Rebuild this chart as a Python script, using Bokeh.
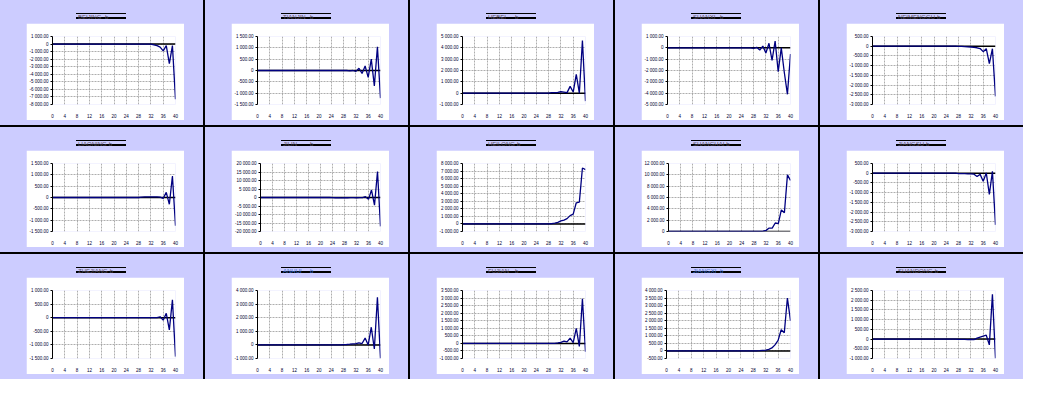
from bokeh.plotting import figure
from bokeh.layouts import row, column
from bokeh.models import Div, Span, FixedTicker, CustomJSTickFormatter
from bokeh.embed import file_html
from bokeh.resources import INLINE

# ---------------- data ----------------
x_index = list(range(41))
x_ticks = [0, 4, 8, 12, 16, 20, 24, 28, 32, 36, 40]

names = ["BEIJING", "TIANJIN", "HEBEI", "SHANXI", "NEIMENGGU",
         "LIAONING", "JILIN", "HEILONG", "SHANGHAI", "JIANGSU",
         "ZHEJIANG", "ANHUI", "FUJIAN", "JIANGXI", "SHANDONG"]

y_min = [-8000, -1500, -1000, -5000, -3000,
         -1500, -20000, -1000, 0, -3000,
         -1500, -1000, -1000, -500, -1000]
y_max = [1000, 1500, 5000, 1000, 500,
         1500, 20000, 8000, 12000, 500,
         1000, 4000, 3500, 4000, 2500]
y_step = [1000, 500, 1000, 1000, 500,
          500, 5000, 1000, 2000, 500,
          500, 1000, 500, 500, 500]

beijing = [0, 0, 0, 0, 0, 0, 0, 0, 0, 0,
           0, 0, 0, 0, 0, 0, 0, 0, 0, 0,
           0, 0, 0, 0, 0, 0, 0, 0, 0, 0,
           0, 0, 0, -100, -200, -400, -900, -200, -2600, -200,
           -7300]
tianjin = [0, 0, 0, 0, 0, 0, 0, 0, 0, 0,
           0, 0, 0, 0, 0, 0, 0, 0, 0, 0,
           0, 0, 0, 0, 0, 0, 0, 0, 0, 0,
           -20, 0, -40, 100, -130, 200, -300, 500, -680, 1050,
           -1220]
hebei = [0, 0, 0, 0, 0, 0, 0, 0, 0, 0,
         0, 0, 0, 0, 0, 0, 0, 0, 0, 0,
         0, 0, 0, 0, 0, 0, 0, 0, 10, 40,
         50, 60, 130, 100, 50, 600, 100, 1650, 0, 4650,
         -700]
shanxi = [0, 0, 0, 0, 0, 0, 0, 0, 0, 0,
          0, 0, 0, 0, 0, 0, 0, 0, 0, 0,
          0, 0, 0, 0, 0, 0, 0, 0, -50, 50,
          -200, 150, -450, 400, -1100, 600, -2100, 0, -2200, -4100,
          -550]
neimenggu = [0, 0, 0, 0, 0, 0, 0, 0, 0, 0,
             0, 0, 0, 0, 0, 0, 0, 0, 0, 0,
             0, 0, 0, 0, 0, 0, 0, 0, -5, -10,
             -20, -30, -40, -60, -80, -120, -280, -130, -900, -130,
             -2580]
liaoning = [0, 0, 0, 0, 0, 0, 0, 0, 0, 0,
            0, 0, 0, 0, 0, 0, 0, 0, 0, 0,
            0, 0, 0, 0, 0, 0, 0, 0, 0, 20,
            30, 30, 30, 30, 30, 20, -40, 230, -300, 950,
            -1250]
jilin = [0, 0, 0, 0, 0, 0, 0, 0, 0, 0,
         0, 0, 0, 0, 0, 0, 0, 0, 0, 0,
         0, 0, 0, 0, -100, -150, -100, -200, -100, -150,
         -100, -100, -150, -100, -100, 500, -1100, 4400, -4500, 15300,
         -17000]
heilong = [0, 0, 0, 0, 0, 0, 0, 0, 0, 0,
           0, 0, 0, 0, 0, 0, 0, 0, 0, 0,
           0, 0, 0, 0, 0, 0, 0, 0, 0, 50,
           100, 200, 400, 500, 700, 1100, 1300, 2800, 2900, 7400,
           7200]
shanghai = [0, 0, 0, 0, 0, 0, 0, 0, 0, 0,
            0, 0, 0, 0, 0, 0, 0, 0, 0, 0,
            0, 0, 0, 0, 0, 0, 0, 0, 0, 0,
            0, 50, 200, 600, 600, 1500, 1400, 3800, 3300, 10000,
            9000]
jiangsu = [0, 0, 0, 0, 0, 0, 0, 0, 0, 0,
           0, 0, 0, 0, 0, 0, 0, 0, 0, 0,
           0, 0, 0, 0, 0, 0, 0, 0, -20, -20,
           -20, -30, -30, -50, -170, -60, -410, 15, -1090, 95,
           -2660]
zhejiang = [0, 0, 0, 0, 0, 0, 0, 0, 0, 0,
            0, 0, 0, 0, 0, 0, 0, 0, 0, 0,
            0, 0, 0, 0, 0, 0, 0, 0, 0, 0,
            0, 0, 0, 0, 0, 35, -90, 160, -450, 660,
            -1430]
anhui = [0, 0, 0, 0, 0, 0, 0, 0, 0, 0,
         0, 0, 0, 0, 0, 0, 0, 0, 0, 0,
         0, 0, 0, 0, 0, 0, 0, 0, 20, 30,
         50, 80, 100, 150, 100, 500, 0, 1300, -300, 3500,
         -1000]
fujian = [0, 0, 0, 0, 0, 0, 0, 0, 0, 0,
          0, 0, 0, 0, 0, 0, 0, 0, 0, 0,
          0, 0, 0, 0, 0, 0, 0, 0, 0, 0,
          0, 30, 70, 150, 100, 350, 50, 1000, -200, 2950,
          -550]
jiangxi = [0, 0, 0, 0, 0, 0, 0, 0, 0, 0,
           0, 0, 0, 0, 0, 0, 0, 0, 0, 0,
           0, 0, 0, 0, 0, 0, 0, 0, 0, 10,
           20, 40, 60, 100, 200, 400, 700, 1400, 1200, 3500,
           2000]
shandong = [0, 0, 0, 0, 0, 0, 0, 0, 0, 0,
            0, 0, 0, 0, 0, 0, 0, 0, 0, 0,
            0, 0, 0, 0, 0, 0, 0, 0, -20, -20,
            -20, -30, -20, -30, 50, 100, 150, 200, -300, 2300,
            -1000]

series = [beijing, tianjin, hebei, shanxi, neimenggu,
          liaoning, jilin, heilong, shanghai, jiangsu,
          zhejiang, anhui, fujian, jiangxi, shandong]

title_colors = {"ANHUI": "#3a6fd0", "JIANGXI": "#3a6fd0"}

# ---------------- styling ----------------
PANEL_W, PANEL_H = 203, 125
LAVENDER = "#CCCCFF"
FONT = "Liberation Sans"

fmt = CustomJSTickFormatter(code=r"""
if (Math.abs(tick) < 1e-9) { return "0"; }
const s = Math.abs(tick).toFixed(2);
const parts = s.split(".");
const ip = parts[0].replace(/\B(?=(\d{3})+(?!\d))/g, " ");
return (tick < 0 ? "-" : "") + ip + "." + parts[1];
""")


def make_panel(name, ys, lo, hi, step):
    color = title_colors.get(name, "#5a4f60")
    title = Div(
        text=(
            f'<div style="display:inline-block;min-width:50px;height:6px;'
            f'border-top:1px solid #000;border-bottom:2px solid #000;'
            f'font-family:\'{FONT}\',Arial;font-size:6px;line-height:6px;'
            f'color:{color};padding:0 2px 0 2px;white-space:nowrap;">'
            f'<span style="display:inline-block;min-width:27px;padding-right:2px">'
            f'{name}</span>b</div>'
        ),
        width=70, height=10, margin=(7, 0, 0, 76),
    )

    p = figure(width=158, height=97, x_range=(0, 40), y_range=(lo, hi),
               output_backend="svg", toolbar_location=None,
               min_border_left=24, min_border_right=9,
               min_border_top=13, min_border_bottom=15,
               background_fill_color="white", border_fill_color="white",
               outline_line_color=None, margin=(6, 0, 0, 26))

    yt = []
    v = lo
    while v <= hi + step / 2:
        yt.append(v)
        v += step

    p.xaxis.ticker = FixedTicker(ticks=x_ticks)
    p.yaxis.ticker = FixedTicker(ticks=yt)
    p.yaxis.formatter = fmt

    for ax in (p.xaxis, p.yaxis):
        ax.major_label_text_font = FONT
        ax.major_label_text_font_size = "4.5px"
        ax.major_label_text_color = "#000033"
        ax.minor_tick_line_color = None

    p.xaxis.axis_line_color = None
    p.xaxis.major_tick_line_color = None
    p.xaxis.major_label_standoff = 3

    p.yaxis.axis_line_color = "black"
    p.yaxis.axis_line_width = 1
    p.yaxis.major_tick_line_color = "black"
    p.yaxis.major_tick_out = 2
    p.yaxis.major_tick_in = 0
    p.yaxis.major_label_standoff = 2

    for g in (p.xgrid, p.ygrid):
        g.grid_line_color = "#999999"
        g.grid_line_dash = "2 1"
        g.grid_line_width = 0.8

    zero = Span(location=0, dimension="width", line_color="black",
                line_width=1.5, level="underlay")
    p.add_layout(zero)

    p.line(x_index, ys, line_color="#000080", line_width=1.3)

    panel = column(title, p, width=PANEL_W, height=PANEL_H, spacing=0,
                   styles={"background-color": LAVENDER})
    return panel


panels = [make_panel(names[i], series[i], y_min[i], y_max[i], y_step[i])
          for i in range(15)]

rows = [row(panels[r * 5:(r + 1) * 5], spacing=2,
            styles={"background-color": "black"})
        for r in range(3)]
layout = column(rows, spacing=2, styles={"background-color": "black"})

open("out.html", "w").write(file_html(layout, INLINE))
